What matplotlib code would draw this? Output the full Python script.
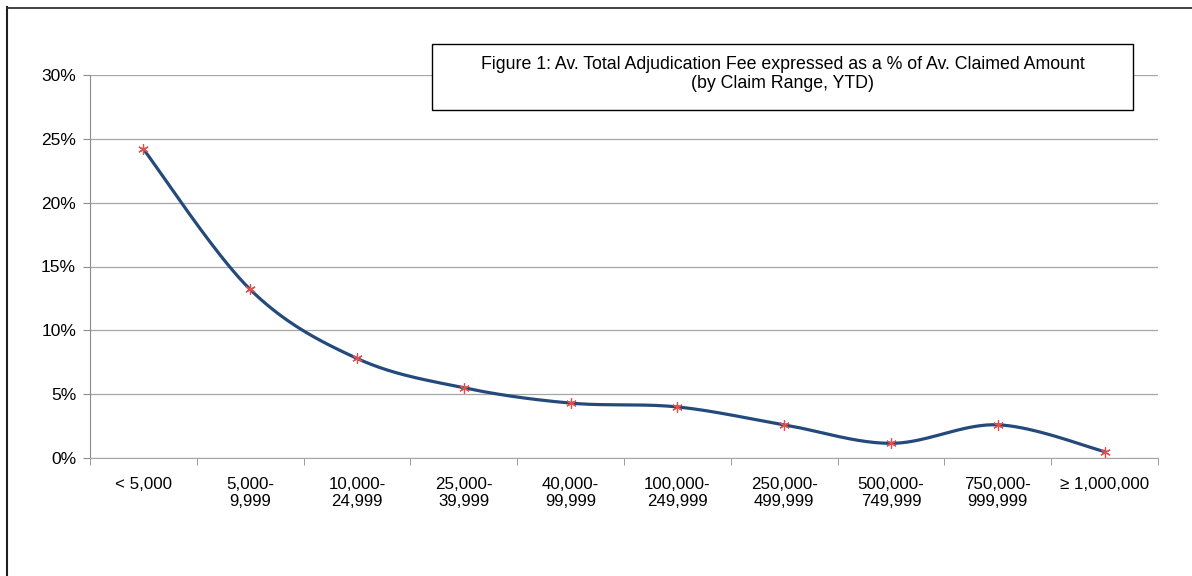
import numpy as np
import matplotlib
matplotlib.use('Agg')
import matplotlib.pyplot as plt
from matplotlib.patches import Rectangle
from matplotlib.lines import Line2D
from matplotlib.ticker import FixedLocator, NullFormatter

plt.rcParams['font.family'] = ['Liberation Sans', 'DejaVu Sans']

# data
categories = ['< 5,000', '5,000-\n9,999', '10,000-\n24,999', '25,000-\n39,999',
              '40,000-\n99,999', '100,000-\n249,999', '250,000-\n499,999',
              '500,000-\n749,999', '750,000-\n999,999', '\u2265 1,000,000']
fee_pct = [24.2, 13.2, 7.8, 5.5, 4.3, 4.0, 2.6, 1.15, 2.6, 0.5]
title = 'Figure 1: Av. Total Adjudication Fee expressed as a % of Av. Claimed Amount\n(by Claim Range, YTD)'
yticks = [0, 5, 10, 15, 20, 25, 30]


def smooth(xs, ys, n=40):
    # Excel-like smoothed line (Catmull-Rom style bezier)
    xs = np.asarray(xs, float)
    ys = np.asarray(ys, float)
    px, py = [], []
    for i in range(len(xs) - 1):
        x0, y0 = xs[max(i - 1, 0)], ys[max(i - 1, 0)]
        x1, y1 = xs[i], ys[i]
        x2, y2 = xs[i + 1], ys[i + 1]
        x3, y3 = xs[min(i + 2, len(xs) - 1)], ys[min(i + 2, len(xs) - 1)]
        c1x, c1y = x1 + (x2 - x0) / 6, y1 + (y2 - y0) / 6
        c2x, c2y = x2 - (x3 - x1) / 6, y2 - (y3 - y1) / 6
        t = np.linspace(0, 1, n)
        a, b, c, d = (1 - t) ** 3, 3 * (1 - t) ** 2 * t, 3 * (1 - t) * t ** 2, t ** 3
        px.extend(a * x1 + b * c1x + c * c2x + d * x2)
        py.extend(a * y1 + b * c1y + c * c2y + d * y2)
    return np.array(px), np.array(py)


fig = plt.figure(figsize=(11.92, 5.76), dpi=100)
# outer frame (only left and top edges are visible in the original)
fig.lines.append(Line2D([7 / 1192, 7 / 1192], [0, 1 - 7 / 576], transform=fig.transFigure,
                        color='#202020', linewidth=1.5))
fig.lines.append(Line2D([7 / 1192, 1], [1 - 7.5 / 576, 1 - 7.5 / 576], transform=fig.transFigure,
                        color='#303030', linewidth=1.3))

ax = fig.add_axes([90 / 1192, 1 - 458 / 576, (1158 - 90) / 1192, (458 - 75) / 576])
x = np.arange(len(categories))
sx, sy = smooth(x, fee_pct)
ax.plot(sx, sy, color='#244a7c', linewidth=2.3, zorder=3)
ax.plot(x, fee_pct, linestyle='none', marker=(6, 2, 0), markersize=7.5,
        markeredgecolor='#e0504d', markeredgewidth=0.9, zorder=4)

ax.set_xlim(-0.5, len(categories) - 0.5)
ax.set_ylim(0, 30)
ax.set_yticks(yticks)
ax.set_yticklabels([f'{v}%' for v in yticks])
ax.yaxis.grid(True, color='#a6a6a6', linewidth=0.9)
ax.set_axisbelow(True)

ax.set_xticks(x)
ax.set_xticklabels(categories, linespacing=1.1)
ax.xaxis.set_minor_locator(FixedLocator(np.arange(-0.5, len(categories), 1)))
ax.xaxis.set_minor_formatter(NullFormatter())
ax.tick_params(axis='x', which='major', length=0, pad=14, labelsize=12.2)
ax.tick_params(axis='x', which='minor', length=5, color='#8c8c8c', direction='out')
ax.tick_params(axis='y', length=5, color='#8c8c8c', labelsize=12.5, pad=5)

for s in ['top', 'right']:
    ax.spines[s].set_visible(False)
ax.spines['left'].set_color('#8c8c8c')
ax.spines['bottom'].set_color('#a6a6a6')

fig.patches.append(Rectangle((432 / 1192, 1 - 110 / 576), (1133 - 432) / 1192, 66 / 576,
                             transform=fig.transFigure, facecolor='white',
                             edgecolor='black', linewidth=1.0, zorder=5))
fig.text((432 + 1133) / 2 / 1192, 1 - 74 / 576, title, ha='center', va='center',
         fontsize=12.8, linespacing=1.1, zorder=6)

fig.savefig('out.png', dpi=100)
